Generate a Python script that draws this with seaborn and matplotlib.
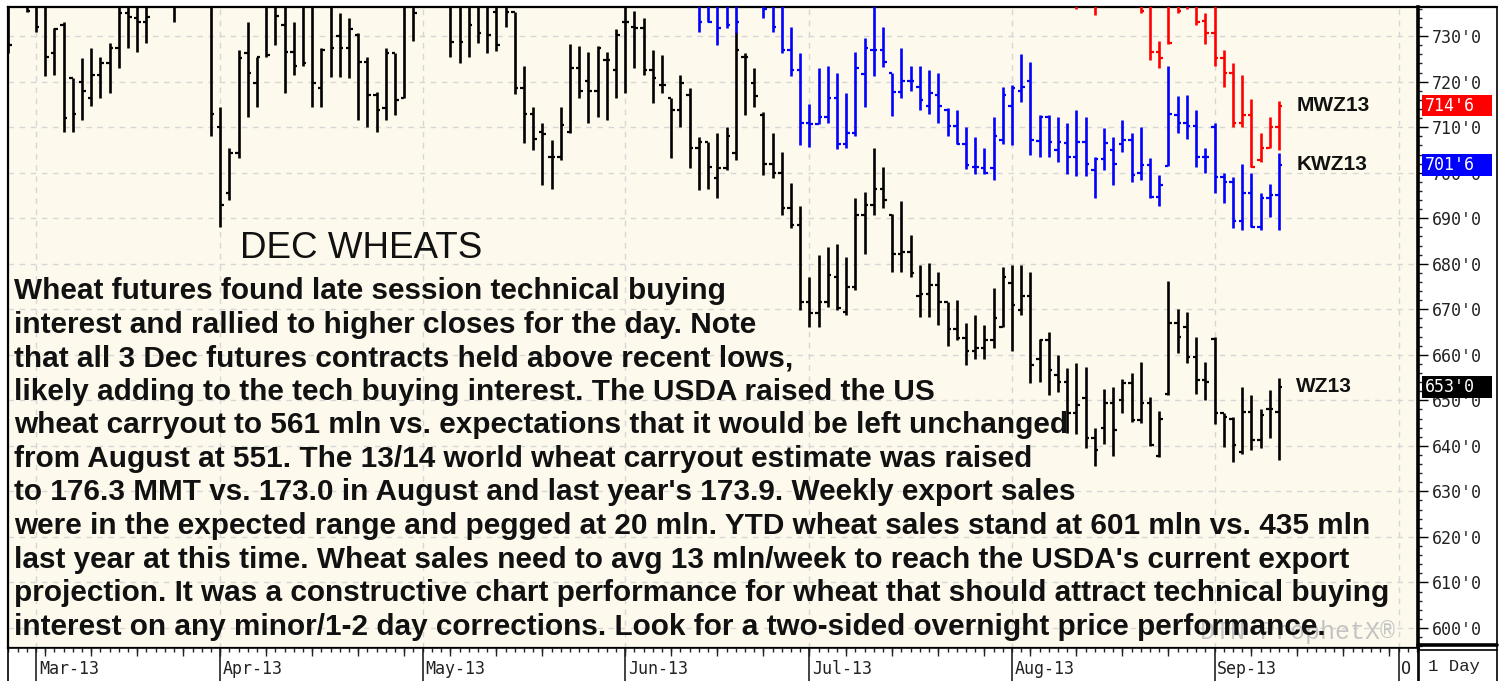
import numpy as np
import pandas as pd
import matplotlib
matplotlib.use("Agg")
import matplotlib.pyplot as plt
import matplotlib.transforms as mtransforms
from matplotlib.lines import Line2D
from matplotlib.patches import Rectangle
from matplotlib.ticker import MultipleLocator, FuncFormatter
import seaborn as sns

nan = np.nan
W, H = 1502, 681

# trading calendar (CBOT holidays removed)
HOLIDAYS = ["2013-03-29", "2013-05-27", "2013-07-04", "2013-09-02"]
dates = pd.bdate_range("2013-02-26", "2013-10-04")
dates = dates[~dates.isin(pd.to_datetime(HOLIDAYS))]

# ---- WZ13 (Chicago Dec wheat), 2013-02-26 .. 2013-09-12 ----
wz_open = ([739, nan, 740] +
           [738, 738, 726.25, 732.5, 720.75, 720, 716.5, 721.5, 724, 727.5, 735, 734, 733, nan, nan, 740, nan, nan, nan, 740] +
           [710, 695.5, 704.25, 726.25, 719.75, 738, 738, 732.5, 726.5, 737, 737, 718.5, 737, 730, 727.5, 730.25, 724.25, 717, 714.25, 726.25, 716.5, 738] +
           [nan, nan, nan, 738, 738, 738, 738, 737, 735.25, 738, 735.25, 718.5, 713, 709, 703.5, 703.5, 709, 723, 720.25, 718, 724.75, 722.5] +
           [733, 732, 731.75, 722.5, 719.25, 716.5, 713.75, 717, 705.5, 706.75, 698.75, 701, 704.25, 725.5, 719.75, 712.75, 702, 700, 692.25, 688.5] +
           [671.5, 669.25, 671.5, 677, 669.5, 675, 690.75, 693, 696.5, 690.75, 682.25, 682.5, 673, 673.25, 675.25, 671.5, 665.75, 663.75, 660.75, 661.5, 663.25, 666] +
           [675.75, 669.75, 673, 659, 663.25, 655.5, 654, 647.25, 650.5, 641.75, 644, 649.5, 650, 653.75, 645.75, 649.5, 637.75, 651.5, 667, 666, 659.5, 654.5] +
           [663.5, 647.25, 646, 638.75, 647.5, 641.25, 648, 647.5])
wz_high = ([740, nan, 741] +
           [742, 740, 731.75, 733, 720.75, 725.25, 727.5, 725.5, 728.5, 740, 742, 742, 742, nan, nan, 745, nan, nan, nan, 745] +
           [714.5, 705.5, 727, 733, 725.5, 740, 742, 740, 733, 740, 740, 727.5, 740, 735, 734, 730.75, 725.5, 717.75, 727.5, 726.25, 740, 742] +
           [nan, nan, nan, 742, 742, 742, 742, 742, 740, 740, 735.25, 723.5, 714.5, 711, 707.25, 714.5, 728.25, 727.75, 726.5, 727.75, 726.5, 731.5] +
           [740, 735.5, 734, 727, 725.75, 716.5, 721.5, 718.5, 707.75, 706.75, 708.75, 710, 731, 726.25, 723, 713.25, 708.75, 704.5, 697.75, 692.75] +
           [677, 682, 683.75, 684.25, 681.5, 694.5, 695.75, 705.5, 701.25, 691, 693.75, 686.25, 679.75, 680.25, 678.25, 671.5, 672, 667, 668.75, 666.5, 674.75, 679.25] +
           [679.75, 679.75, 678.25, 663.5, 665, 660, 657, 658.25, 657.25, 644, 652.5, 653, 654.75, 656, 658.5, 650.75, 647.75, 676.25, 670, 669.5, 664, 658.5] +
           [664, 647.25, 646.25, 653, 651.25, 648, 652.25, 655])
wz_low = ([726.25, nan, 735.25] +
          [731, 721.25, 721.5, 709, 709, 711.5, 714.75, 716.5, 717.5, 723, 727.5, 726.5, 728.5, nan, nan, 733, nan, nan, nan, 708] +
          [688, 694, 703.25, 712.25, 714.5, 725.5, 728, 717.5, 721.5, 723.5, 714.5, 714.5, 721, 721, 720.75, 711.5, 710, 709, 711.5, 712.75, 716.5, 729] +
          [nan, nan, nan, 725.5, 724, 725.5, 728.5, 726.25, 726.75, 732, 717.25, 706.5, 705, 697.25, 696.5, 702.75, 708.75, 716.5, 711, 712.25, 711.5, 716.5] +
          [717.5, 723, 721.5, 715.25, 717.5, 703.25, 710, 701, 696.25, 696.5, 694.5, 700.5, 702.75, 712.75, 714.5, 699.5, 698.75, 690.75, 687.75, 669.75] +
          [666, 666, 670.5, 669.75, 668.75, 674.25, 682.25, 690.75, 692.25, 678.25, 678.25, 677, 668.25, 668.25, 666.5, 662, 663.25, 657.75, 659, 659, 661.5, 666] +
          [660.75, 668.75, 653.75, 654, 651.25, 651.75, 642.75, 642.5, 639.5, 635.5, 640.5, 637.75, 647.25, 645.25, 645, 640, 637.5, 651.25, 660.5, 658.25, 651.5, 650] +
          [644.75, 639.75, 636.5, 638.25, 639, 639.5, 641.75, 637])
wz_close = ([728, nan, 735.5] +
            [732, 725.5, 731.5, 712, 713, 718, 721.5, 724, 727.5, 735, 734.25, 733, 734.25, nan, nan, 738, nan, nan, nan, 713] +
            [693, 704.25, 725.25, 722, 725.5, 725.75, 734.5, 726.5, 723.5, 724, 719.75, 727, 727.5, 727.5, 731.5, 724.25, 717, 713.75, 726.25, 716, 738, 735] +
            [nan, nan, nan, 728.75, 728.75, 732.5, 730.75, 730.25, 728, 735.25, 718.5, 713, 707.5, 708.5, 703.5, 710.5, 723, 718, 718, 727.5, 724.75, 730.25] +
            [733, 731.75, 722.5, 720.75, 719.25, 713.75, 719.75, 705.5, 706.75, 701.25, 701, 708, 727, 725.5, 716.75, 702, 700, 692.25, 688.5, 671.5] +
            [669.25, 671.5, 677.5, 670.25, 675, 690.75, 693, 696.5, 694, 682.25, 682.5, 678, 673.25, 675.25, 671.5, 665.75, 663.75, 660.75, 661.5, 663.25, 668, 677] +
            [671, 673, 657.75, 663.25, 656.75, 654, 647.25, 649, 641.75, 639, 649.5, 643.5, 653.75, 645.75, 649.5, 640.25, 646, 667, 664, 659.5, 654.5, 654] +
            [647.25, 646.25, 640.25, 647.5, 641.25, 646.75, 648, 653])

# ---- KWZ13 (KC Dec wheat), 2013-06-13 .. 2013-09-12 ----
kw_first = "2013-06-13"
kw_open = ([738, 738, 737, 737, 737, nan, nan, 738, 738, 738, 727, 722.5] +
           [711, 710.75, 712.25, 716.5, 706.25, 708.75, 721.75, 727, 727, 722, 717.75, 720.25, 718.75, 714.75, 717, 713.75, 710.25, 706.25, 701.25, 701, 701, 707.25] +
           [714.75, 718, 720.25, 707, 712.25, 705, 706.5, 703.5, 706.75, 700.5, 703, 705, 706.25, 707.25, 700, 701.75, 694.75, 701.5, 712.75, 711, 710.25, 703.5] +
           [710, 699, 698, 689.5, 695.5, 688, 694.5, 695])
kw_high = ([742, 742, 742, 742, 742, nan, nan, 742, 742, 742, 732, 726.25] +
           [715, 723, 723.5, 722, 717.5, 726.5, 729.5, 742, 732, 722, 727.5, 723.5, 723.5, 722.5, 722, 714.25, 713.75, 710, 707.75, 705.5, 712.25, 718.75] +
           [719.25, 726, 724.25, 712.75, 712.75, 712.25, 711, 713.75, 712.25, 703.5, 709.75, 707.75, 711.5, 708.75, 710, 703.25, 699.5, 723.5, 716.75, 717, 713.75, 705.5] +
           [711, 700, 699, 702, 700, 695.5, 697.5, 704.25])
kw_low = ([731, 733, 728, 731.75, 730.75, nan, nan, 734, 731, 726.25, 721.25, 706] +
          [705.75, 710.75, 711, 705.25, 705.5, 708, 714.5, 721.25, 723.25, 712.5, 716.5, 718, 713.75, 713, 711, 708, 706.25, 700.75, 699.75, 699.75, 698.5, 706.25] +
          [706, 715.5, 704, 703.5, 703.5, 702.25, 699.75, 699.25, 699.25, 694.5, 700.5, 697.25, 704.5, 698, 698.5, 694.5, 692.75, 701.5, 708.75, 707.5, 701.25, 700] +
          [695.5, 693.25, 687.75, 687.5, 688, 687.5, 690.25, 687.5])
kw_close = ([733, 733, 731.75, 732.5, 733, nan, nan, 736, 732, 727, 722.5, 711] +
            [710.75, 712.25, 716.5, 706.25, 708.75, 723, 727.5, 727, 724.25, 717.75, 720.25, 720.25, 716, 717.5, 714.75, 710.25, 706.25, 701.75, 701.25, 700, 708, 717] +
            [718.5, 718.75, 707.25, 712.25, 706.75, 706.75, 703.5, 706.75, 702, 703, 706.5, 702, 707.25, 699.5, 701.75, 694.75, 697.25, 713, 711, 710.25, 703.5, 703.5] +
            [699, 698, 689.5, 695.5, 688, 694.5, 695, 701.75])

# ---- MWZ13 (Minneapolis Dec wheat), 2013-08-12 .. 2013-09-12 ----
mw_first = "2013-08-12"
mw_open = ([740, nan, 740, nan, nan, nan, nan, 740, 738, 726.5, 740, 740, 740, 740, 733.25] +
           [730.75, 725.25, 722, 711, 712.75, 702.75, 705.5, 710])
mw_high = ([745, nan, 745, nan, nan, nan, nan, 745, 745, 729, 745, 745, 745, 745, 735] +
           [745, 727, 724, 721.5, 716.25, 708.75, 712.25, 715.75])
mw_low = ([736, nan, 734.75, nan, nan, nan, nan, 735, 724.75, 723, 728.25, 735, 736, 732.5, 728.25] +
          [723.5, 718.75, 710, 710, 701.25, 702.25, 705.5, 705])
mw_close = ([737, nan, 737, nan, nan, nan, nan, 735.5, 726.5, 725.25, 728.5, 735.5, 737, 733, 730.75] +
            [725.25, 722, 711, 712.75, 701.25, 705.5, 710, 714.75])

contracts = ["WZ13", "KWZ13", "MWZ13"]
colors = {"WZ13": "#000000", "KWZ13": "#0000FF", "MWZ13": "#FF0000"}

commentary = [
    "Wheat futures found late session technical buying",
    "interest and rallied to higher closes for the day. Note",
    "that all 3 Dec futures contracts held above recent lows,",
    "likely adding to the tech buying interest. The USDA raised the US",
    "wheat carryout to 561 mln vs. expectations that it would be left unchanged",
    "from August at 551. The 13/14 world wheat carryout estimate was raised",
    "to 176.3 MMT vs. 173.0 in August and last year's 173.9. Weekly export sales",
    "were in the expected range and pegged at 20 mln. YTD wheat sales stand at 601 mln vs. 435 mln",
    "last year at this time. Wheat sales need to avg 13 mln/week to reach the USDA's current export",
    "projection. It was a constructive chart performance for wheat that should attract technical buying",
    "interest on any minor/1-2 day corrections. Look for a two-sided overnight price performance.",
]


def frame(first, o, h, l, c):
    start = dates.get_loc(pd.Timestamp(first))
    return pd.DataFrame({"pos": np.arange(start, start + len(o)),
                         "open": o, "high": h, "low": l, "close": c})


data = {
    "WZ13": frame("2013-02-26", wz_open, wz_high, wz_low, wz_close),
    "KWZ13": frame(kw_first, kw_open, kw_high, kw_low, kw_close),
    "MWZ13": frame(mw_first, mw_open, mw_high, mw_low, mw_close),
}

sns.set_style("white")
plt.rcParams["font.family"] = ["Liberation Sans", "DejaVu Sans"]
MONO = ["DejaVu Sans Mono", "Liberation Mono"]
COURIER = ["Liberation Mono", "DejaVu Sans Mono"]


def fx(px):
    return px / W


def fy(py):
    return 1 - py / H


fig = plt.figure(figsize=(W / 100, H / 100), dpi=100)
fig.patch.set_facecolor("white")

# main price panel
ax = fig.add_axes([fx(8), fy(648), fx(1410), (648 - 7) / H])
ax.set_facecolor("#FDF9EC")
xmin, xmax = -0.04, 153.1
ax.set_xlim(xmin, xmax)
ax.set_ylim(595.6, 736.4)

month_pos = [i for i in range(1, len(dates)) if dates[i].month != dates[i - 1].month]
for p in month_pos:
    ax.axvline(p, color="#D6D6D6", lw=1, ls=(0, (4, 4)), zorder=0)
for v in range(600, 740, 10):
    ax.axhline(v, color="#D6D6D6", lw=1, ls=(0, (4, 4)), zorder=0)

for name in contracts:
    d = data[name].dropna(subset=["high", "low"])
    col = colors[name]
    ax.vlines(d["pos"], d["low"], d["high"], color=col, lw=1.9, zorder=3)
    ax.hlines(d["open"], d["pos"] - 0.38, d["pos"], color=col, lw=1.6, zorder=3)
    ax.hlines(d["close"], d["pos"], d["pos"] + 0.38, color=col, lw=1.6, zorder=3)

# price axis on the right
ax.yaxis.tick_right()
ax.yaxis.set_major_locator(MultipleLocator(10))
ax.yaxis.set_minor_locator(MultipleLocator(2))
ax.yaxis.set_major_formatter(FuncFormatter(lambda v, _: f"{int(v)}'0"))
ax.tick_params(axis="y", which="major", direction="out", length=7, width=1, pad=3,
               labelsize=12, labelcolor="#222222", colors="#000000")
ax.tick_params(axis="y", which="minor", direction="out", length=3, width=1)
for lab in ax.get_yticklabels():
    lab.set_fontfamily(MONO)
ax.tick_params(axis="x", bottom=False, labelbottom=False)
for s in ax.spines.values():
    s.set_color("black")
    s.set_linewidth(1.6)
ax.spines["right"].set_linewidth(2.6)

# last price boxes and contract labels
blend = mtransforms.blended_transform_factory(ax.transAxes, ax.transData)
last_pos = data["WZ13"]["pos"].iloc[-1]
for name in contracts:
    last = data[name]["close"].iloc[-1]
    eighths = int(round((last % 1) * 8))
    ax.add_patch(Rectangle(((1422 - 8) / 1410, last - 2.4), 70 / 1410, 4.8, transform=blend,
                           facecolor=colors[name], edgecolor="none", clip_on=False, zorder=5))
    ax.text((1425 - 8) / 1410, last, f"{int(last)}'{eighths}", transform=blend, color="white",
            fontsize=12, family=MONO, va="center", ha="left", clip_on=False, zorder=6)
    ax.text(last_pos + 1.9, last, name, fontsize=15, fontweight="bold", color="#111111",
            va="center", ha="left", zorder=6)

# commentary
fig.text(fx(240), fy(258), "DEC WHEATS", fontsize=26.5, color="#111111",
         va="baseline", ha="left", zorder=10)
for k, line in enumerate(commentary):
    fig.text(fx(14), fy(299.2 + 33.55 * k), line, fontsize=21.45, fontweight="bold",
             color="#111111", va="baseline", ha="left", zorder=10)
fig.text(fx(1200), fy(639), "DTN ProphetX\u00ae", fontsize=18, color="#C4C4C4",
         family=COURIER, va="baseline", ha="left", zorder=9)

# time axis strip
axb = fig.add_axes([fx(8), 0, fx(1410), 33 / H])
axb.set_xlim(xmin, xmax)
axb.set_ylim(0, 33)
axb.set_facecolor("white")
axb.set_xticks([])
axb.set_yticks([])
for s in axb.spines.values():
    s.set_color("black")
    s.set_linewidth(1.2)
axb.spines["bottom"].set_visible(False)
pos = np.arange(len(dates))
axb.vlines(pos, 29, 33, color="#222222", lw=1)
mondays = pos[dates.dayofweek == 0]
axb.vlines(mondays, 25, 33, color="#222222", lw=1)
axb.vlines(month_pos, 0, 33, color="#222222", lw=1.2)
month_labels = [dates[p].strftime("%b-%y") for p in month_pos]
month_labels[-1] = month_labels[-1][0]  # only the first letter fits before the edge
for p, lab in zip(month_pos, month_labels):
    axb.text(p + 0.3, 12, lab, fontsize=12, family=MONO,
             color="#222222", va="center", ha="left", clip_on=True)

# right hand boxes
def line(x0, y0, x1, y1, lw):
    fig.add_artist(Line2D([fx(x0), fx(x1)], [fy(y0), fy(y1)], color="black", lw=lw))

line(1418, 7, 1497, 7, 1.6)
line(1497, 7, 1497, 681, 1.2)
line(1418, 645, 1497, 645, 2.6)
line(1418, 650, 1497, 650, 1.2)
line(1419, 648, 1419, 681, 1.2)
fig.text(fx(1428), fy(667), "1 Day", fontsize=12.5, family=COURIER,
         color="#222222", va="center", ha="left")

fig.savefig("out.png", dpi=100)
